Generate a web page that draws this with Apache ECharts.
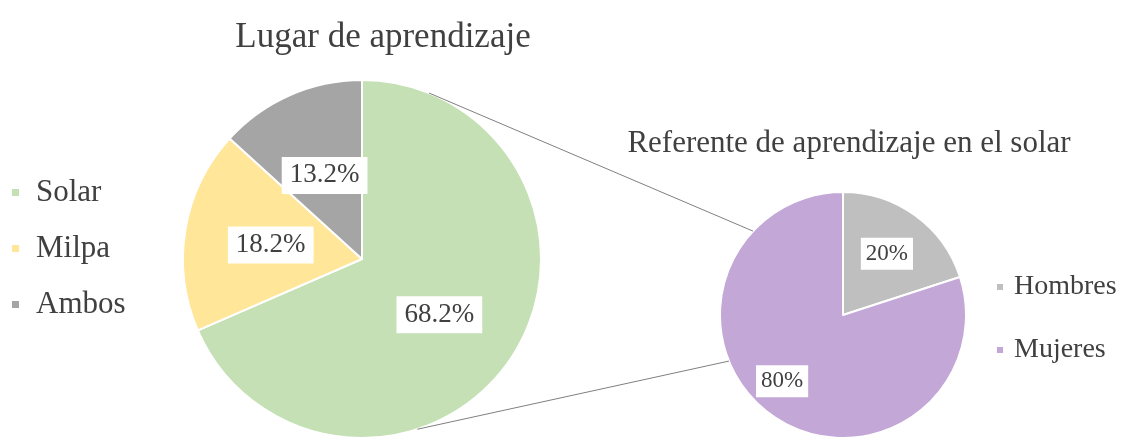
<!DOCTYPE html>
<html>
<head>
<meta charset="utf-8">
<script src="https://cdn.jsdelivr.net/npm/echarts@6/dist/echarts.min.js"></script>
<style>
  html, body { margin: 0; padding: 0; background: #fff; }
  #chart { width: 1138px; height: 437px; }
</style>
</head>
<body>
<div id="chart"></div>
<script>
// 数据
var lugarNames = ['Solar', 'Milpa', 'Ambos'];
var lugarValues = [68.2, 18.2, 13.2];
var lugarColors = ['#c5e0b4', '#ffe699', '#a5a5a5'];

var refNames = ['Hombres', 'Mujeres'];
var refValues = [20, 80];
var refColors = ['#bfbfbf', '#c3a7d6'];

// 饼图位置
var bigCenter = [362, 259], bigR = 179;
var smallCenter = [843, 315], smallR = 123;

// 角度从顶部顺时针
function pt(c, r, deg) {
    var a = deg * Math.PI / 180;
    return [c[0] + r * Math.sin(a), c[1] - r * Math.cos(a)];
}

var font = '"Liberation Serif", "DejaVu Serif", serif';
var txt = '#404040';

// 标签微调
var lugarOffsets = [[0, 5], [0, 1], [0, 1]];
var refOffsets = [[6, -9], [-23, 14]];

var myChart = echarts.init(document.getElementById('chart'));

// 连接线
var p1 = pt(bigCenter, bigR, 22), q1 = pt(smallCenter, smallR, 313);
var p2 = pt(bigCenter, bigR, 162), q2 = pt(smallCenter, smallR, 248);

var options = {
    backgroundColor: '#fff',
    animation: false,
    title: [{
        text: 'Lugar de aprendizaje',
        left: 378,
        top: 15,
        textAlign: 'center',
        textStyle: { fontFamily: font, fontSize: 35, fontWeight: 'normal', color: txt }
    }, {
        text: 'Referente de aprendizaje en el solar',
        left: 844,
        top: 123,
        textAlign: 'center',
        textStyle: { fontFamily: font, fontSize: 31, fontWeight: 'normal', color: txt }
    }],
    legend: [{
        data: lugarNames,
        orient: 'vertical',
        left: 5,
        top: 172,
        icon: 'rect',
        itemWidth: 9,
        itemHeight: 9,
        itemGap: 25,
        textStyle: { fontFamily: font, fontSize: 31, color: txt, padding: [0, 0, 0, 11] }
    }, {
        data: refNames,
        orient: 'vertical',
        left: 990,
        top: 268,
        icon: 'rect',
        itemWidth: 8,
        itemHeight: 8,
        itemGap: 35,
        textStyle: { fontFamily: font, fontSize: 28, color: txt, padding: [0, 0, 0, 5] }
    }],
    graphic: [{
        type: 'line',
        z: 100,
        shape: { x1: p1[0], y1: p1[1], x2: q1[0], y2: q1[1] },
        style: { stroke: '#808080', lineWidth: 1 }
    }, {
        type: 'line',
        z: 100,
        shape: { x1: p2[0], y1: p2[1], x2: q2[0], y2: q2[1] },
        style: { stroke: '#808080', lineWidth: 1 }
    }],
    series: [{
        name: 'Lugar',
        type: 'pie',
        center: bigCenter,
        radius: bigR,
        startAngle: 90,
        clockwise: true,
        itemStyle: { borderColor: '#fff', borderWidth: 2 },
        label: {
            show: true,
            position: 'inside',
            fontFamily: font,
            fontSize: 27,
            color: txt,
            backgroundColor: '#fff',
            padding: [6, 8, 4, 8],
            formatter: function(p) { return p.value.toFixed(1) + '%'; }
        },
        labelLine: { show: false },
        data: lugarNames.map(function(n, i) {
            return { name: n, value: lugarValues[i], itemStyle: { color: lugarColors[i] },
                     label: { offset: lugarOffsets[i] } };
        })
    }, {
        name: 'Referente',
        type: 'pie',
        center: smallCenter,
        radius: smallR,
        startAngle: 90,
        clockwise: true,
        itemStyle: { borderColor: '#fff', borderWidth: 2 },
        label: {
            show: true,
            position: 'inside',
            fontFamily: font,
            fontSize: 23,
            color: txt,
            backgroundColor: '#fff',
            padding: [5, 5, 4, 5],
            formatter: function(p) { return p.value + '%'; }
        },
        labelLine: { show: false },
        data: refNames.map(function(n, i) {
            return { name: n, value: refValues[i], itemStyle: { color: refColors[i] },
                     label: { offset: refOffsets[i] } };
        })
    }]
};
myChart.setOption(options);
</script>
</body>
</html>
